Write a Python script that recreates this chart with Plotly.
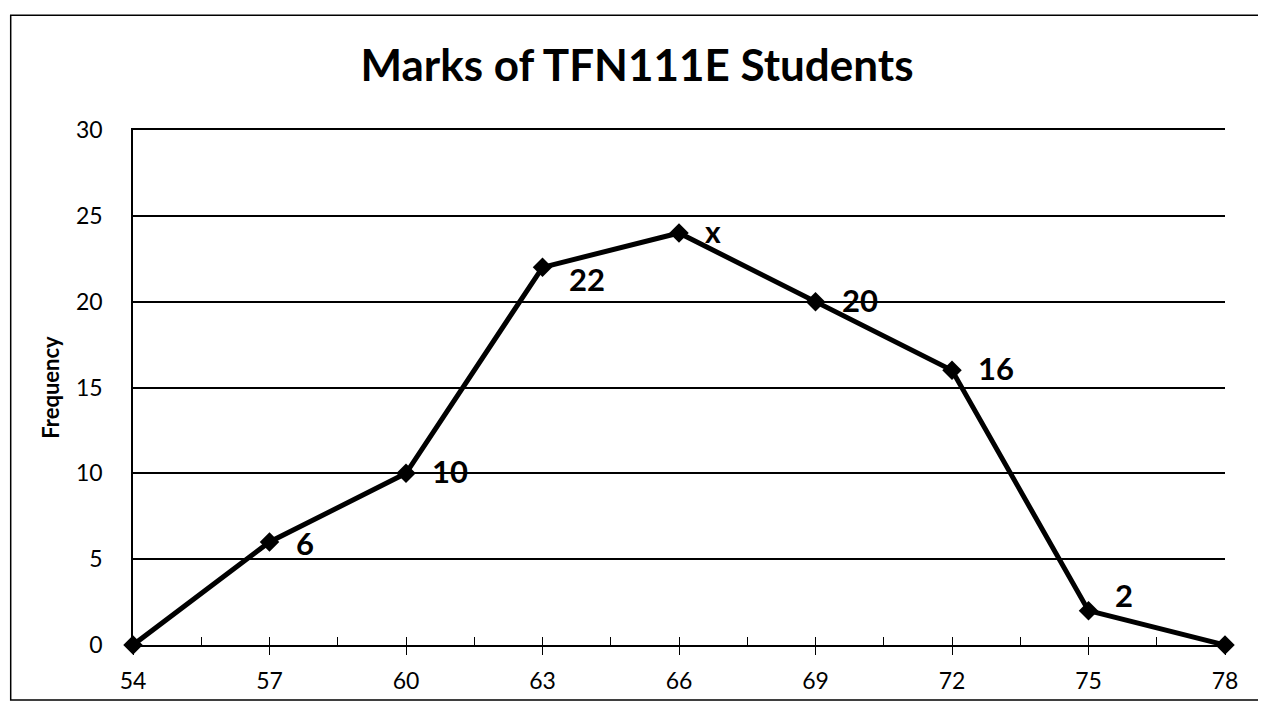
import plotly.graph_objects as go

marks = [54, 57, 60, 63, 66, 69, 72, 75, 78]
frequency = [0, 6, 10, 22, 24, 20, 16, 2, 0]
point_labels = ["", "6", "10", "22", "x", "20", "16", "2", ""]
y_ticks = [0, 5, 10, 15, 20, 25, 30]

# label styling (pixel offsets, font sizes)
label_yshift = [0, -1, 2, -12, 2, 2, 2, 16, 0]
label_size = [31, 31, 31, 31, 30, 31, 31, 31, 31]

fig = go.Figure()
fig.add_trace(go.Scatter(
    x=marks, y=frequency, mode="lines+markers",
    line=dict(color="black", width=5),
    marker=dict(symbol="diamond", size=15, color="black"),
    cliponaxis=False, showlegend=False,
))

for xv, yv, t, ys, fs in zip(marks, frequency, point_labels, label_yshift, label_size):
    if t:
        fig.add_annotation(x=xv, y=yv, text=f"<b>{t}</b>", showarrow=False,
                           xanchor="left", yanchor="middle", xshift=24, yshift=ys,
                           font=dict(family="Lato", size=fs, color="black"))

fig.add_shape(type="rect", xref="paper", yref="paper",
              x0=-0.112, x1=1.1, y0=-0.107, y1=1.223,
              line=dict(color="black", width=1.5), layer="below")

fig.update_layout(
    width=1258, height=698,
    margin=dict(l=125, r=41, t=122, b=61),
    paper_bgcolor="white", plot_bgcolor="white",
    title=dict(text="<b>Marks of TFN111E Students</b>", x=0.5, xanchor="center",
               y=0.917, yanchor="middle",
               font=dict(family="Lato", size=44, color="black")),
    font=dict(family="Lato", color="black"),
)
fig.update_xaxes(
    range=[54, 78], tickmode="array", tickvals=marks, ticktext=[str(m) for m in marks],
    showgrid=False, showline=True, mirror=True, linecolor="black", linewidth=1.5,
    ticks="outside", ticklen=8, tickcolor="black", ticklabelstandoff=7,
    minor=dict(ticks="inside", dtick=1.5, tick0=54, ticklen=8, tickcolor="black", showgrid=False),
    tickfont=dict(family="Lato", size=23, color="black"), zeroline=False,
)
fig.update_yaxes(
    range=[0, 30], tickmode="array", tickvals=y_ticks,
    showgrid=True, gridcolor="black", gridwidth=1.5,
    showline=True, linecolor="black", linewidth=1.5, zeroline=False,
    ticks="", ticklabelstandoff=24,
    tickfont=dict(family="Lato", size=23, color="black"),
    title=dict(text="<b>Frequency</b>", font=dict(family="Lato", size=22, color="black"), standoff=10),
)
fig.write_html("out.html")
